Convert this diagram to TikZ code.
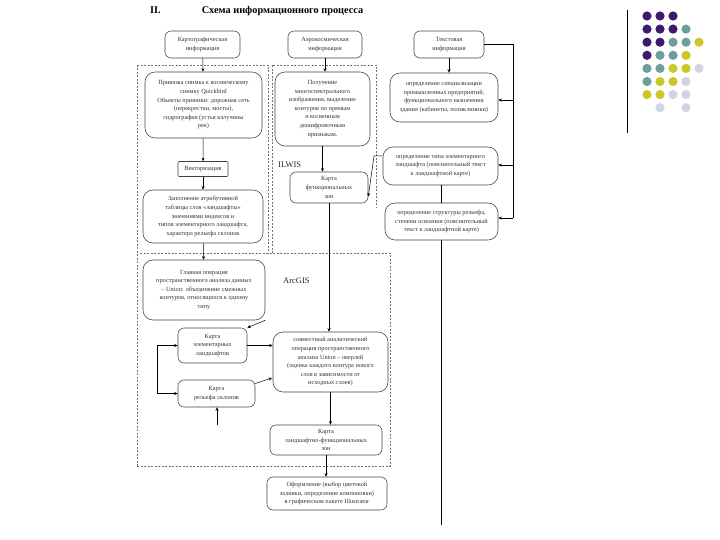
\documentclass[tikz,border=0pt]{standalone}
\usepackage{fontspec}
\setmainfont{Liberation Serif}
\usetikzlibrary{arrows.meta}
\definecolor{dpurple}{HTML}{3E1A6C}
\definecolor{dteal}{HTML}{6C9E9E}
\definecolor{dyellow}{HTML}{CDC725}
\definecolor{dlav}{HTML}{D3D3E3}
\newcommand{\fsz}{\fontsize{6.3}{8.6}\selectfont}
\tikzset{
  box/.style={draw=black!75, rounded corners=6pt, align=center, font=\fsz, inner sep=1pt, text=black!80, line width=0.55pt},
  bigbox/.style={box, rounded corners=10pt},
  arr/.style={-{Stealth[length=3.5pt,width=3pt]}, draw=black, line width=0.5pt},
  ln/.style={draw=black, line width=0.5pt},
  dsh/.style={draw=black!55, line width=0.5pt, dash pattern=on 2pt off 1.5pt},
  lbl/.style={font=\fontsize{8.5}{10}\selectfont, text=black!85, inner sep=0pt}
}
\begin{document}
\begin{tikzpicture}[x=1pt,y=-1pt]
\useasboundingbox (0,0) rectangle (720,540);
% title
\node[font=\bfseries\fontsize{10.3}{12}\selectfont, anchor=west, inner sep=0pt] (title) at (150,11) {II.\hspace{41pt}Схема информационного процесса};
% dashed regions
\draw[dsh] (137,65) -- (268,65) -- (268,253);
\draw[dsh] (137,65) -- (137,466);
\draw[dsh] (272,253) -- (272,65) -- (376,65) -- (376,208);
\draw[dsh] (140,253) -- (390,253) -- (390,466) -- (137,466);
\node[lbl, anchor=west] (ilwis) at (278,165) {ILWIS};
\node[lbl, anchor=west] (arcgis) at (283,281) {ArcGIS};
% top boxes
\node[box, minimum width=75pt, minimum height=27pt] (t1) at (202.5,44.5) {Картографическая\\информация};
\node[box, minimum width=74pt, minimum height=27pt] (t2) at (325,44.5) {Аэрокосмическая\\информация};
\node[box, minimum width=70pt, minimum height=27pt] (t3) at (449,44.5) {Текстовая\\информация};
% left column
\node[bigbox, minimum width=117pt, minimum height=66pt] (a1) at (203.5,105) {Привязка снимка к космическому\\снимку Quickbird\\Объекты привязки: дорожная сеть\\(перекрестки, мосты),\\гидрография (устья излучины\\рек)};
\node[box, rounded corners=1pt, minimum width=50pt, minimum height=15pt] (a2) at (203,169) {Векторизация};
\node[bigbox, minimum width=120pt, minimum height=53pt] (a3) at (203,216.5) {Заполнение атрибутивной\\таблицы слоя «ландшафты»\\значениями индексов и\\типов элементарного ландшафта,\\характера рельефа склонов};
\node[bigbox, minimum width=122pt, minimum height=60pt] (a4) at (204,290) {Главная операция\\пространственного анализа данных\\– Union: объединение смежных\\контуров, относящихся к одному\\типу};
\node[box, minimum width=69pt, minimum height=35pt] (a5) at (212.5,345.5) {Карта\\элементарных\\ландшафтов};
\node[box, minimum width=77pt, minimum height=27pt] (a6) at (216.5,393.5) {Карта\\рельефа склонов};
% middle column
\node[bigbox, minimum width=95pt, minimum height=74pt] (b1) at (322.5,109) {Получение\\многоспектрального\\изображения, выделение\\контуров по прямым\\и косвенным\\дешифровочным\\признакам.};
\node[box, minimum width=78pt, minimum height=31pt] (b2) at (329,187.5) {Карта\\функциональных\\зон};
\node[bigbox, minimum width=115pt, minimum height=60pt] (b3) at (330.5,362) {совместный аналитический\\операция пространственного\\анализа Union – оверлей\\(оценка каждого контура нового\\слоя в зависимости от\\исходных слоев)};
\node[box, minimum width=112pt, minimum height=30pt] (b4) at (326,440) {Карта\\ландшафтно-функциональных\\зон};
\node[box, minimum width=120pt, minimum height=33pt] (b5) at (327,493.5) {Оформление (выбор цветовой\\заливки, определение компоновки)\\в графическом пакете Illustrator};
% right column
\node[bigbox, minimum width=108pt, minimum height=49pt] (c1) at (444,97.5) {определение специализации\\промышленных предприятий,\\функционального назначения\\здания (кабинеты, поликлиники)};
\node[bigbox, minimum width=115pt, minimum height=38pt] (c2) at (440.5,166) {определение типа элементарного\\ландшафта (пояснительный текст\\к ландшафтной карте)};
\node[bigbox, minimum width=113pt, minimum height=37pt] (c3) at (441.5,221.5) {определение структуры рельефа,\\степени освоения (пояснительный\\текст к ландшафтной карте)};
% connectors
\draw[arr] (t1) -- (a1);
\draw[arr] (t2) -- (t2 |- b1.north);
\draw[arr] (t3) -- (t3 |- c1.north);
\coordinate (r0) at (513,44.5);
\draw[ln] (t3.east) -- (r0) -- (513,218);
\draw[arr] (513,100) -- (c1.east |- 0,100);
\draw[arr] (513,165) -- (c2.east |- 0,165);
\draw[arr] (513,218) -- (c3.east |- 0,218);
\draw[arr] (a1) -- (a2);
\draw[arr] (a2) -- (a3);
\draw[arr] (a3) -- (a4);
\draw[arr] (a4.south east) -- (a5.north east);
\draw[arr] (a5.east) -- (a5.east -| b3.west);
\draw[arr] (a6.east) ++(0,-10) -- (272,378);
\draw[arr] (b1) -- (b1 |- b2.north);
\draw[arr] (b2) -- (b2 |- b3.north);
\draw[arr] (b3) -- (b3 |- b4.north);
\draw[arr] (b4) -- (b4 |- b5.north);
\coordinate (cl) at (374,156);
\draw[arr] (c2.west |- cl) -- (cl) -- ([yshift=-9pt]b2.east);
\draw[ln] (c2.south -| 441,0) -- (c3.north -| 441,0);
\draw[ln] (c3.south -| 441,0) -- (441,525);
\coordinate (lb) at (157,345.5);
\draw[arr] (lb) -- (a5.west);
\draw[arr] (lb) |- (a6.west);
\draw[arr] (217,425) -- (a6.south -| 217,0);
% decoration
\draw[line width=0.8pt] (627,10) -- (627,133);
\foreach \c/\x/\y in {
 dpurple/0/0, dpurple/1/0, dpurple/2/0,
 dpurple/0/1, dpurple/1/1, dpurple/2/1, dteal/3/1,
 dpurple/0/2, dpurple/1/2, dteal/2/2, dteal/3/2, dyellow/4/2,
 dpurple/0/3, dteal/1/3, dteal/2/3, dyellow/3/3,
 dteal/0/4, dteal/1/4, dyellow/2/4, dyellow/3/4, dlav/4/4,
 dteal/0/5, dyellow/1/5, dyellow/2/5, dlav/3/5,
 dyellow/0/6, dyellow/1/6, dlav/2/6, dlav/3/6,
 dlav/1/7, dlav/3/7}
 \fill[\c] ({647+13*\x},{16+13.1*\y}) circle (4.6pt);
\end{tikzpicture}
\end{document}
